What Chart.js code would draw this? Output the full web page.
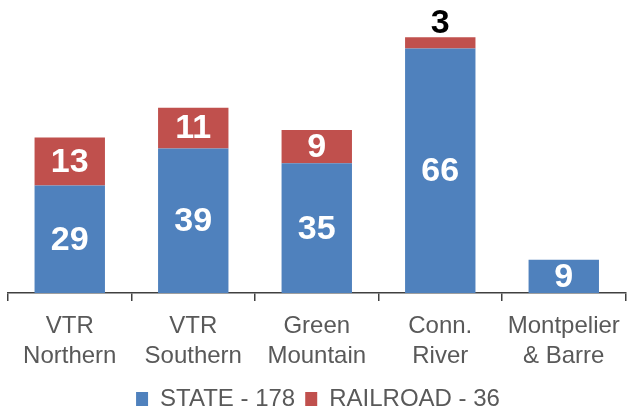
<!DOCTYPE html>
<html>
<head>
<meta charset="utf-8">
<script src="https://cdn.jsdelivr.net/npm/chart.js@4/dist/chart.umd.min.js"></script>
<style>
html,body{margin:0;padding:0;background:#fff;}
canvas{display:block;}
</style>
</head>
<body>
<canvas id="c" width="630" height="412"></canvas>
<script>
const categories = [["VTR","Northern"],["VTR","Southern"],["Green","Mountain"],["Conn.","River"],["Montpelier","& Barre"]];
const stateValues = [29, 39, 35, 66, 9];
const railroadValues = [13, 11, 9, 3, 0];
const seriesNames = ["STATE - 178", "RAILROAD - 36"];
const colors = ["#4F81BD", "#C0504D"];

const FONT = "'Liberation Sans', Arial, sans-serif";

const valueLabels = {
  id: 'valueLabels',
  afterDatasetsDraw(chart) {
    const ctx = chart.ctx;
    ctx.save();
    ctx.font = "bold 34px " + FONT;
    ctx.textAlign = 'center';
    ctx.textBaseline = 'middle';
    chart.data.datasets.forEach((ds, di) => {
      const meta = chart.getDatasetMeta(di);
      meta.data.forEach((bar, i) => {
        const v = ds.data[i];
        if (!v) return;
        const h = Math.abs(bar.base - bar.y);
        if (h < 30) {
          ctx.fillStyle = '#000000';
          ctx.fillText(String(v), bar.x, bar.y - 14);
        } else {
          ctx.fillStyle = '#FFFFFF';
          ctx.fillText(String(v), bar.x, (bar.y + bar.base) / 2 + 1);
        }
      });
    });
    ctx.restore();
  }
};

new Chart(document.getElementById('c'), {
  type: 'bar',
  data: {
    labels: categories,
    datasets: [
      { label: seriesNames[0], data: stateValues, backgroundColor: colors[0] },
      { label: seriesNames[1], data: railroadValues, backgroundColor: colors[1] }
    ]
  },
  options: {
    responsive: false,
    animation: false,
    layout: { padding: { left: 8, right: 2, top: 4, bottom: -9 } },
    datasets: { bar: { categoryPercentage: 1, barPercentage: 0.57 } },
    plugins: {
      tooltip: { enabled: false },
      legend: {
        position: 'bottom',
        labels: {
          font: { family: FONT, size: 24 },
          color: '#595959',
          boxWidth: 12,
          boxHeight: 14,
          padding: 10
        }
      }
    },
    scales: {
      x: {
        stacked: true,
        afterFit: (scale) => { scale.height = 84; },
        grid: { offset: true, drawOnChartArea: false, drawTicks: true, tickLength: 8, color: '#404040', lineWidth: 1.5 },
        border: { display: true, color: '#404040', width: 1.5 },
        ticks: { font: { family: FONT, size: 24, lineHeight: 1.25 }, color: '#595959', padding: 10, maxRotation: 0 }
      },
      y: {
        stacked: true,
        display: false,
        min: 0,
        max: 78
      }
    }
  },
  plugins: [valueLabels]
});
</script>
</body>
</html>
